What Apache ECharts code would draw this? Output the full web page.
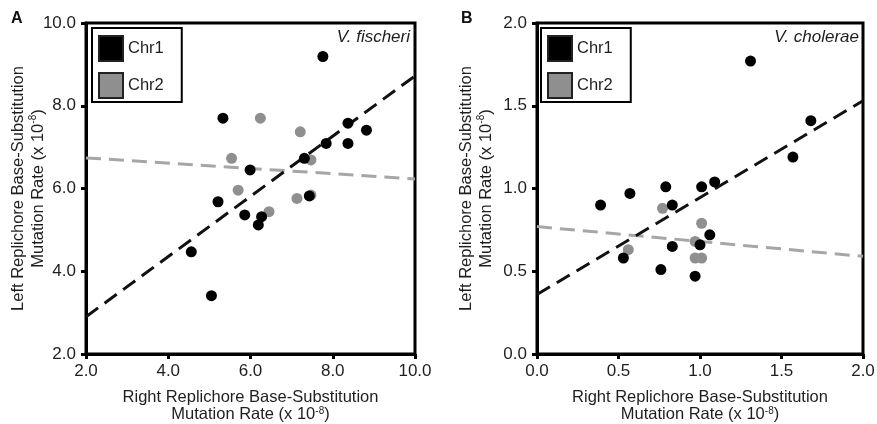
<!DOCTYPE html>
<html>
<head>
<meta charset="utf-8">
<script src="https://cdn.jsdelivr.net/npm/echarts@6/dist/echarts.min.js"></script>
<style>
  html, body { margin: 0; padding: 0; background: #fff; }
  #chart { width: 877px; height: 424px; }
</style>
</head>
<body>
<div id="chart"></div>
<script>
// Panel A: V. fischeri (right vs left replichore rates, x 10^-8)
const fischeriChr1 = [
  [7.76, 9.19], [5.33, 7.70], [8.37, 7.58], [8.82, 7.41], [7.84, 7.09],
  [8.37, 7.09], [7.31, 6.73], [5.99, 6.45], [5.21, 5.68], [7.43, 5.82],
  [5.86, 5.36], [6.27, 5.32], [6.19, 5.12], [4.56, 4.47], [5.05, 3.41]
];
const fischeriChr2 = [
  [6.24, 7.70], [7.21, 7.37], [7.47, 6.69], [5.54, 6.73],
  [5.70, 5.96], [7.13, 5.76], [7.47, 5.84], [6.45, 5.44]
];
const fischeriFitChr1 = [[2.0, 2.90], [10.0, 8.72]];
const fischeriFitChr2 = [[2.0, 6.74], [10.0, 6.23]];

// Panel B: V. cholerae
const choleraeChr1 = [
  [1.31, 1.77], [1.68, 1.41], [1.57, 1.19], [1.09, 1.04], [1.01, 1.01],
  [0.79, 1.01], [0.57, 0.97], [0.39, 0.90], [0.83, 0.90], [1.06, 0.72],
  [1.00, 0.66], [0.83, 0.65], [0.53, 0.58], [0.76, 0.51], [0.97, 0.47]
];
const choleraeChr2 = [
  [0.77, 0.88], [1.01, 0.79], [0.97, 0.68], [0.56, 0.63], [0.97, 0.58], [1.01, 0.58]
];
const choleraeFitChr1 = [[0.0, 0.36], [2.0, 1.53]];
const choleraeFitChr2 = [[0.0, 0.77], [2.0, 0.59]];

const seriesNames = ['Chr1', 'Chr2'];
const speciesNames = ['V. fischeri', 'V. cholerae'];
const panelLetters = ['A', 'B'];
const xTitle = ['Right Replichore Base-Substitution', 'Mutation Rate (x 10{sup|-8})'];
const yTitle = ['Left Replichore Base-Substitution', 'Mutation Rate (x 10{sup|-8})'];

const FONT = '"Liberation Sans", Arial, Helvetica, sans-serif';
const INK = '#1e1e1e';
const DARK = '#000000';
const GREY = '#8f8f8f';
const FIT_GREY = '#a6a6a6';

function nameStyle(lineHeight) {
  return {
    fontFamily: FONT, fontSize: 16.5, color: INK, lineHeight, align: 'center',
    rich: { sup: { fontFamily: FONT, fontSize: 10, color: INK, verticalAlign: 'top', lineHeight, padding: [0, 0, 6, 0] } }
  };
}

function valueAxis(gridIndex, min, max, interval, name, nameGap, labelMargin, lineHeight) {
  return {
    type: 'value', gridIndex, min, max, interval,
    name, nameLocation: 'middle', nameGap, nameMoveOverlap: false,
    nameTextStyle: nameStyle(lineHeight),
    axisLine: { show: true, onZero: false, lineStyle: { color: '#000', width: 3 } },
    axisTick: { show: true, inside: false, length: 5, lineStyle: { color: '#000', width: 3 } },
    axisLabel: { fontFamily: FONT, fontSize: 17, color: INK, margin: labelMargin, formatter: v => v.toFixed(1) },
    splitLine: { show: false }
  };
}

function scatter(name, data, color, xi) {
  return {
    type: 'scatter', name, data, xAxisIndex: xi, yAxisIndex: xi,
    symbol: 'circle', symbolSize: 11, z: 5,
    itemStyle: { color, opacity: 1 }
  };
}

function fit(data, color, xi) {
  return {
    type: 'line', data, xAxisIndex: xi, yAxisIndex: xi,
    symbol: 'none', silent: true, z: 3,
    lineStyle: { color, width: 3, type: [15, 8] }
  };
}

function legend(left) {
  return {
    data: seriesNames, left, top: 28, orient: 'vertical',
    icon: 'rect', itemWidth: 24, itemHeight: 25, itemGap: 10,
    backgroundColor: '#fff', borderColor: '#000', borderWidth: 2, borderRadius: 0,
    padding: [7, 18, 3, 6],
    itemStyle: { borderColor: '#222', borderWidth: 2 },
    textStyle: { fontFamily: FONT, fontSize: 16.5, color: INK },
    selectedMode: false
  };
}

function grid(left, width) {
  return {
    left, top: 23, width, height: 331,
    show: true, borderColor: '#000', borderWidth: 3, backgroundColor: 'transparent',
    containLabel: false, outerBoundsMode: 'none'
  };
}

const chart = echarts.init(document.getElementById('chart'), null, { renderer: 'canvas' });

chart.setOption({
  backgroundColor: '#fff',
  animation: false,
  grid: [grid(86, 329), grid(537, 326)],
  xAxis: [
    valueAxis(0, 2, 10, 2, xTitle.join('\n'), 35, 9, 17),
    valueAxis(1, 0, 2, 0.5, xTitle.join('\n'), 35, 9, 17)
  ],
  yAxis: [
    valueAxis(0, 2, 10, 2, yTitle.join('\n'), 38, 10, 20),
    valueAxis(1, 0, 2, 0.5, yTitle.join('\n'), 41, 10, 20)
  ],
  legend: [legend(92), legend(541)],
  series: [
    fit(fischeriFitChr2, FIT_GREY, 0),
    fit(fischeriFitChr1, '#111', 0),
    scatter('Chr2', fischeriChr2, GREY, 0),
    scatter('Chr1', fischeriChr1, DARK, 0),
    fit(choleraeFitChr2, FIT_GREY, 1),
    fit(choleraeFitChr1, '#111', 1),
    scatter('Chr2', choleraeChr2, GREY, 1),
    scatter('Chr1', choleraeChr1, DARK, 1)
  ],
  graphic: [
    { type: 'text', left: 11, top: 11, style: { text: panelLetters[0], font: 'bold 16px ' + FONT, fill: '#111' } },
    { type: 'text', left: 461, top: 11, style: { text: panelLetters[1], font: 'bold 16px ' + FONT, fill: '#111' } },
    { type: 'text', right: 877 - 410, top: 29, style: { text: speciesNames[0], font: 'italic 17px ' + FONT, fill: INK } },
    { type: 'text', right: 877 - 859, top: 29, style: { text: speciesNames[1], font: 'italic 17px ' + FONT, fill: INK } }
  ]
});
</script>
</body>
</html>
